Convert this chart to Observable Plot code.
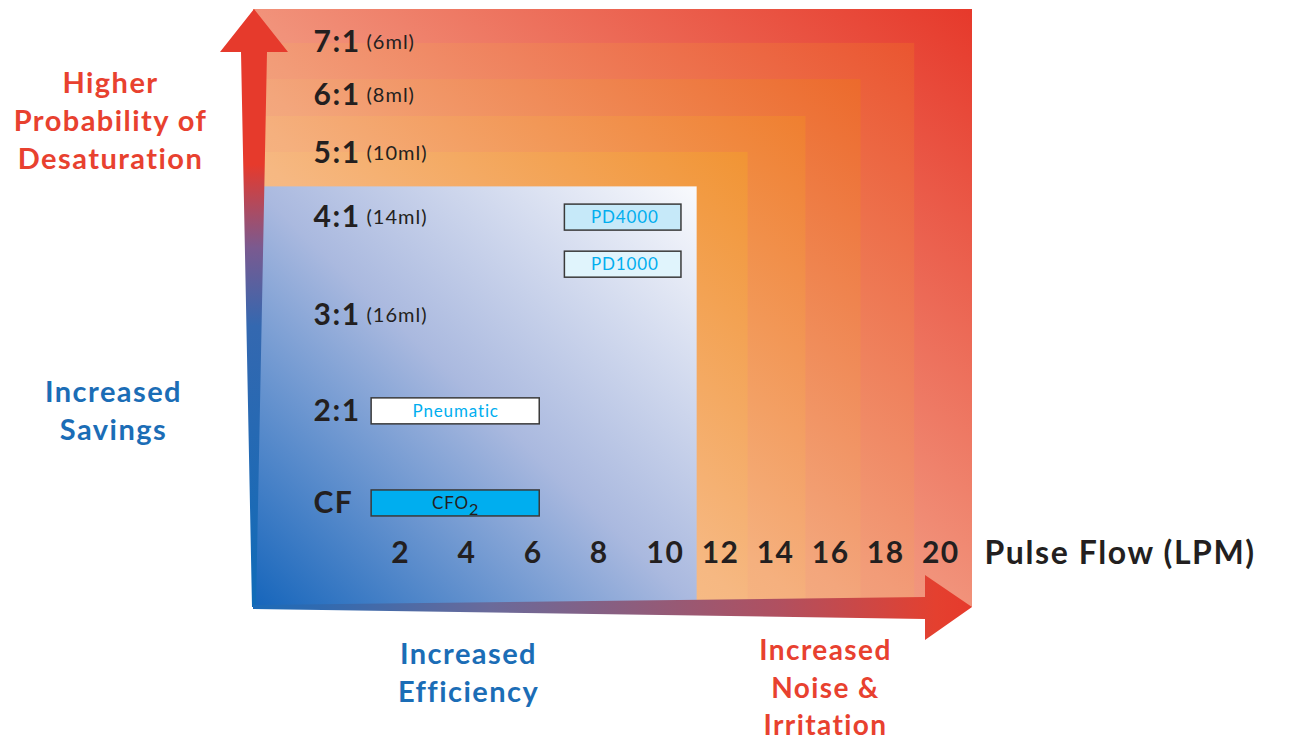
<!DOCTYPE html>
<html>
<head>
<meta charset="utf-8">
<script src="https://cdn.jsdelivr.net/npm/d3@7"></script>
<script src="https://cdn.jsdelivr.net/npm/@observablehq/plot@0.6"></script>
<style>
  body { margin: 0; background: #ffffff; }
  #chart { width: 1300px; height: 742px; }
  #chart text { letter-spacing: 0.05em; }
</style>
</head>
<body>
<div id="chart"></div>
<script>
// ---------- data ----------
const flowTicks = [2, 4, 6, 8, 10, 12, 14, 16, 18, 20];
const ratioLevels = [1, 2, 3, 4, 5, 6, 7];
const ratioLabels = ["CF", "2:1", "3:1", "4:1", "5:1", "6:1", "7:1"];
const bolusLabels = ["", "", "(16ml)", "(14ml)", "(10ml)", "(8ml)", "(6ml)"];
// nested zones (outer → inner): upper flow bound and upper level bound
const zoneFlowMax = [21.15, 19.05, 17.1, 15.1, 13.0, 11.15];
const zoneLevelMax = [7.62, 6.98, 6.30, 5.64, 5.02, 4.48];
// products
const productNames = ["PD4000", "PD1000", "Pneumatic", "CFO₂"];
const productLevel = [4, 3.52, 2, 1];
const productFlowStart = [6.96, 6.96, 1.12, 1.12];
const productFlowEnd = [10.58, 10.58, 6.2, 6.2];
// axis extents / breakpoints of the (non-uniform) axes
const flowBreaks = [-2.45, 10, 21.15];
const levelBreaks = [-0.13, 1, 2, 3, 4, 5, 6, 7, 7.62];

// ---------- non-uniform axis spacing (fraction of the frame) ----------
const flowSpacing = [0, 0.573, 1];
const levelSpacing = [0, 0.174, 0.328, 0.488, 0.652, 0.759, 0.856, 0.945, 1];
const fx = d3.scaleLinear().domain(flowBreaks).range(flowSpacing);
const fy = d3.scaleLinear().domain(levelBreaks).range(levelSpacing);

// ---------- styles ----------
const zoneStops = [
  ["#f8c8b0", "#f1927a", "#e6392b"],
  ["#f8c6a6", "#f29c78", "#ea5530"],
  ["#f8c8a0", "#f3a67c", "#ec6a2c"],
  ["#f9ca98", "#f5b07e", "#ef7f30"],
  ["#facd96", "#f6b882", "#f19434"],
  ["#1565bb", "#aab9df", "#f9fafd"]
];
const productFill = ["#c6e9f9", "#e0f4fc", "#ffffff", "#00aeef"];
const productText = ["#00aeef", "#00aeef", "#00aeef", "#231f20"];
const red = "#e8412f", blue = "#1b6db6", ink = "#231f20";
const font = "Lato, 'Open Sans', sans-serif";

const zones = zoneFlowMax.map((f, i) => ({flow: f, level: zoneLevelMax[i], fill: `url(#zone${i})`}));
const products = productNames.map((n, i) => ({
  name: n, level: productLevel[i], x1: productFlowStart[i], x2: productFlowEnd[i],
  fill: productFill[i], color: productText[i]
}));

function arrows(index, scales) {
  const cx = scales.x(fx(flowBreaks[0]));
  const cy = scales.y(fy(levelBreaks[0]));
  const right = scales.x(fx(flowBreaks[flowBreaks.length - 1]));
  const top = scales.y(fy(levelBreaks[levelBreaks.length - 1]));
  const g = d3.create("svg:g");
  const defs = g.append("defs");
  const gv = defs.append("linearGradient").attr("id", "arrowV")
    .attr("gradientUnits", "userSpaceOnUse")
    .attr("x1", 0).attr("y1", top).attr("x2", 0).attr("y2", cy);
  [[0, "#e63a2c"], [0.26, "#e63a2c"], [0.4, "#7a5a90"], [0.53, "#3468b0"], [1, "#0f6bb8"]]
    .forEach(([o, c]) => gv.append("stop").attr("offset", o).attr("stop-color", c));
  const gh = defs.append("linearGradient").attr("id", "arrowH")
    .attr("gradientUnits", "userSpaceOnUse")
    .attr("x1", cx).attr("y1", 0).attr("x2", right).attr("y2", 0);
  [[0, "#1a6ab8"], [0.33, "#6a6a9a"], [0.73, "#b05060"], [0.95, "#e4402f"], [1, "#e63a2c"]]
    .forEach(([o, c]) => gh.append("stop").attr("offset", o).attr("stop-color", c));
  const hv = 43;
  const vPts = [
    [cx + 1, top], [cx + 35, top + hv], [cx + 14, top + hv], [cx + 3, cy],
    [cx - 1, cy], [cx - 12, top + hv], [cx - 33, top + hv]
  ];
  g.append("polygon").attr("points", vPts.map(p => p.join(",")).join(" ")).attr("fill", "url(#arrowV)");
  const hh = 47;
  const hPts = [
    [cx, cy - 2], [right - hh, cy - 10], [right - hh, cy - 32], [right, cy],
    [right - hh, cy + 33], [right - hh, cy + 12], [cx, cy + 2]
  ];
  g.append("polygon").attr("points", hPts.map(p => p.join(",")).join(" ")).attr("fill", "url(#arrowH)");
  return g.node();
}

const chart = Plot.plot({
  width: 1300,
  height: 742,
  marginLeft: 253,
  marginRight: 328,
  marginTop: 9,
  marginBottom: 135,
  style: {fontFamily: font, background: "#ffffff", overflow: "visible"},
  x: {domain: [0, 1], axis: null},
  y: {domain: [0, 1], axis: null},
  color: {type: "identity"},
  marks: [
    Plot.rect(zones, {x1: () => fx(flowBreaks[0]), x2: d => fx(d.flow),
      y1: () => fy(levelBreaks[0]), y2: d => fy(d.level), fill: "fill"}),
    arrows,
    Plot.text(ratioLevels, {y: d => fy(d), text: (d, i) => ratioLabels[i], frameAnchor: "left", dx: 60,
      textAnchor: "start", fontSize: 30, fontWeight: 700, fill: ink}),
    Plot.text(ratioLevels, {y: d => fy(d), text: (d, i) => bolusLabels[i], frameAnchor: "left", dx: 113,
      textAnchor: "start", fontSize: 20, fill: ink}),
    Plot.rect(products, {x1: d => fx(d.x1), x2: d => fx(d.x2), y1: d => fy(d.level), y2: d => fy(d.level),
      insetTop: -13, insetBottom: -13, fill: "fill", stroke: "#3a3a3a", strokeWidth: 1.5}),
    Plot.text(products, {x: d => fx((d.x1 + d.x2) / 2), y: d => fy(d.level), text: "name", fill: "color",
      fontSize: 17}),
    Plot.text(flowTicks, {x: d => fx(d), frameAnchor: "bottom", lineAnchor: "middle", dy: -54,
      fontSize: 30, fontWeight: 700, fill: ink}),
    Plot.text(["Pulse Flow (LPM)"], {frameAnchor: "bottom-right", lineAnchor: "middle", dx: 12, dy: -54,
      textAnchor: "start", fontSize: 32, fontWeight: 700, fill: ink}),
    Plot.text(["Higher\nProbability of\nDesaturation"], {frameAnchor: "top-left", dx: -143, dy: 109,
      textAnchor: "middle", lineAnchor: "middle",
      fontSize: 29, fontWeight: 700, lineHeight: 1.31, fill: red}),
    Plot.text(["Increased\nSavings"], {frameAnchor: "top-left", dx: -140, dy: 399,
      textAnchor: "middle", lineAnchor: "middle",
      fontSize: 29, fontWeight: 700, lineHeight: 1.31, fill: blue}),
    Plot.text(["Increased\nEfficiency"], {frameAnchor: "bottom-left", dx: 215, dy: 63,
      textAnchor: "middle", lineAnchor: "middle",
      fontSize: 29, fontWeight: 700, lineHeight: 1.31, fill: blue}),
    Plot.text(["Increased\nNoise &\nIrritation"], {frameAnchor: "bottom-left", dx: 572, dy: 78,
      textAnchor: "middle", lineAnchor: "middle",
      fontSize: 28, fontWeight: 700, lineHeight: 1.34, fill: red})
  ]
});

// zone gradients (bottom-left → top-right)
const defs = d3.select(chart).insert("defs", ":first-child");
zoneStops.forEach((stops, i) => {
  const lg = defs.append("linearGradient").attr("id", `zone${i}`)
    .attr("x1", 0).attr("y1", 1).attr("x2", 1).attr("y2", 0);
  stops.forEach((c, j) => lg.append("stop").attr("offset", j / (stops.length - 1)).attr("stop-color", c));
});

// render the chemical subscript as a real subscript
d3.select(chart).selectAll("text").filter(function () { return this.textContent === "CFO₂"; })
  .each(function () {
    const t = d3.select(this);
    t.text("CFO");
    t.append("tspan").attr("dy", "0.35em").attr("font-size", "0.95em").text("2");
  });

document.getElementById("chart").appendChild(chart);
</script>
</body>
</html>
